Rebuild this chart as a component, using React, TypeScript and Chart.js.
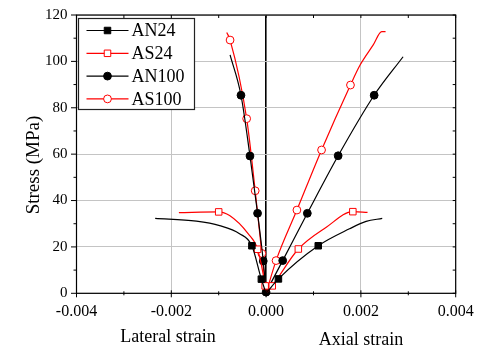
import React, { useEffect, useRef } from "react";
import { Chart, registerables } from "chart.js";
Chart.register(...registerables);

// ---- data (strain, stress in MPa) ----
const seriesNames = ["AN24", "AS24", "AN100", "AS100"];

const an24LatStrain = [-0.00234, -0.00147, -0.00098, -0.00056, -0.0003, -0.0001, 0];
const an24LatStress = [32.3, 31.1, 29.2, 25.7, 20.5, 6.1, 0];
const an24LatMark = [0, 0, 0, 0, 1, 1, 0];
const an24AxStrain = [0, 0.00026, 0.0011, 0.00176, 0.00211, 0.00245];
const an24AxStress = [0, 6.2, 20.5, 27.8, 31.0, 32.3];
const an24AxMark = [0, 1, 1, 0, 0, 0];

const as24LatStrain = [-0.00184, -0.001, -0.00077, -0.00038, -0.00018, -0.00002, 0];
const as24LatStress = [34.8, 35.1, 33.5, 25.7, 19.0, 3.2, 0];
const as24LatMark = [0, 1, 0, 0, 1, 1, 0];
const as24AxStrain = [0, 0.00013, 0.00068, 0.00127, 0.00183, 0.00214];
const as24AxStress = [0, 3.2, 19.1, 28.5, 35.2, 34.9];
const as24AxMark = [0, 1, 1, 0, 1, 0];

const an100LatStrain = [-0.00076, -0.00053, -0.00034, -0.00018, -0.00006, 0];
const an100LatStress = [102.8, 85.4, 59.2, 34.5, 13.9, 0.5];
const an100LatMark = [0, 1, 1, 1, 1, 1];
const an100AxStrain = [0, 0.00035, 0.00087, 0.00152, 0.00228, 0.00289];
const an100AxStress = [0.5, 14.1, 34.5, 59.3, 85.4, 102.0];
const an100AxMark = [0, 1, 1, 1, 1, 0];

const as100LatStrain = [-0.00083, -0.00076, -0.00041, -0.00023, -0.00009, 0];
const as100LatStress = [112.5, 109.2, 75.3, 44.2, 17.2, 0];
const as100LatMark = [0, 1, 1, 1, 1, 0];
const as100AxStrain = [0, 0.00021, 0.00065, 0.00117, 0.00178, 0.00198, 0.00226, 0.00244, 0.00252];
const as100AxStress = [0, 14.1, 35.9, 61.8, 89.8, 98.3, 107.1, 112.8, 112.8];
const as100AxMark = [0, 1, 1, 1, 1, 0, 0, 0, 0];

const xTickValues = [-0.004, -0.002, 0, 0.002, 0.004];
const yTickValues = [0, 20, 40, 60, 80, 100, 120];

// ---- styles ----
const RED = "rgb(255,0,0)";
const styles = [
  { color: "#000", style: "rect", fill: "#000", r: 4.6 },
  { color: RED, style: "rect", fill: "#fff", r: 4.6 },
  { color: "#000", style: "circle", fill: "#000", r: 3.9 },
  { color: RED, style: "circle", fill: "#fff", r: 3.9 },
];

const branches = [
  [0, an24LatStrain, an24LatStress, an24LatMark],
  [0, an24AxStrain, an24AxStress, an24AxMark],
  [1, as24LatStrain, as24LatStress, as24LatMark],
  [1, as24AxStrain, as24AxStress, as24AxMark],
  [2, an100LatStrain, an100LatStress, an100LatMark],
  [2, an100AxStrain, an100AxStress, an100AxMark],
  [3, as100LatStrain, as100LatStress, as100LatMark],
  [3, as100AxStrain, as100AxStress, as100AxMark],
] as const;

const SERIF = "'Liberation Serif', 'Times New Roman', serif";

function drawMarker(ctx: CanvasRenderingContext2D, s: any, x: number, y: number) {
  ctx.beginPath();
  if (s.style === "rect") {
    const h = Math.SQRT1_2 * s.r;
    ctx.rect(x - h, y - h, 2 * h, 2 * h);
  } else {
    ctx.arc(x, y, s.r, 0, Math.PI * 2);
  }
  ctx.fillStyle = s.fill;
  ctx.fill();
  ctx.lineWidth = 1;
  ctx.strokeStyle = s.color;
  ctx.stroke();
}

const overlay = {
  id: "overlay",
  afterDraw(chart: any) {
    const { ctx, chartArea: a, scales } = chart;
    const xs = scales.x;
    const ys = scales.y;
    ctx.save();
    // frame
    ctx.strokeStyle = "#000";
    ctx.lineWidth = 1.2;
    ctx.strokeRect(a.left, a.top, a.right - a.left, a.bottom - a.top);

    ctx.lineWidth = 1;
    ctx.beginPath();
    // y ticks (left outward, right inward)
    for (let v = 0; v <= 120; v += 10) {
      const py = ys.getPixelForValue(v);
      const major = v % 20 === 0;
      ctx.moveTo(a.left - (major ? 5.5 : 3), py);
      ctx.lineTo(a.left, py);
      ctx.moveTo(a.right, py);
      ctx.lineTo(a.right - 3, py);
    }
    // x ticks
    for (let k = -4; k <= 4; k++) {
      const px = xs.getPixelForValue(k * 0.001);
      const major = k % 2 === 0;
      ctx.moveTo(px, a.bottom - (major ? 3 : 2));
      ctx.lineTo(px, a.bottom + (major ? 4 : 2));
      ctx.moveTo(px, a.top);
      ctx.lineTo(px, a.top + 3);
    }
    ctx.stroke();

    // legend box
    const bx = 78.5, by = 18.5, bw = 116, bh = 91;
    ctx.fillStyle = "#fff";
    ctx.fillRect(bx, by, bw, bh);
    ctx.strokeStyle = "#222";
    ctx.lineWidth = 1.2;
    ctx.strokeRect(bx, by, bw, bh);
    ctx.font = `18px ${SERIF}`;
    ctx.textBaseline = "middle";
    ctx.textAlign = "left";
    seriesNames.forEach((name, i) => {
      const s = styles[i];
      const ry = 30.5 + i * 22.8;
      ctx.beginPath();
      ctx.moveTo(86.5, ry);
      ctx.lineTo(128.5, ry);
      ctx.strokeStyle = s.color;
      ctx.lineWidth = 1.2;
      ctx.stroke();
      drawMarker(ctx, s, 107.5, ry);
      ctx.fillStyle = "#000";
      ctx.fillText(name, 131.5, ry + 1);
    });

    // axis texts
    ctx.fillStyle = "#000";
    ctx.textAlign = "center";
    ctx.textBaseline = "alphabetic";
    ctx.font = `18px ${SERIF}`;
    ctx.fillText("Lateral strain", 168, 342);
    ctx.fillText("Axial strain", 361, 345);
    ctx.save();
    ctx.translate(39, 165);
    ctx.rotate(-Math.PI / 2);
    ctx.font = `19px ${SERIF}`;
    ctx.fillText("Stress (MPa)", 0, 0);
    ctx.restore();

    ctx.restore();
  },
};

export default function App() {
  const ref = useRef<HTMLCanvasElement>(null);
  useEffect(() => {
    if (!ref.current) return;
    const datasets = branches.map(([si, xsArr, ysArr, mk]) => {
      const s = styles[si];
      return {
        data: (xsArr as readonly number[]).map((x, i) => ({ x, y: (ysArr as readonly number[])[i] })),
        borderColor: s.color,
        borderWidth: 1.2,
        cubicInterpolationMode: "monotone" as const,
        pointStyle: s.style,
        pointRadius: (mk as readonly number[]).map((m) => (m ? s.r : 0)),
        pointBackgroundColor: s.fill,
        pointBorderColor: s.color,
        pointBorderWidth: 1,
        fill: false,
        clip: false as any,
      };
    });
    const chart = new Chart(ref.current, {
      type: "line",
      data: { datasets: datasets as any },
      options: {
        animation: false,
        responsive: false,
        devicePixelRatio: 1,
        events: [],
        layout: { padding: { top: 15, right: 22.3, left: 0, bottom: 0 } },
        plugins: { legend: { display: false }, tooltip: { enabled: false } },
        scales: {
          x: {
            type: "linear",
            min: -0.004,
            max: 0.004,
            afterFit: (sc: any) => {
              sc.height = 55.7;
              sc.paddingLeft = 0;
              sc.paddingRight = 0;
            },
            afterBuildTicks: (sc: any) => { sc.ticks = xTickValues.map((v) => ({ value: v })); },
            border: { display: false },
            grid: {
              drawTicks: false,
              color: (c: any) => (Math.abs(c.tick.value) < 1e-9 ? "#000" : "#c4c4c4"),
              lineWidth: (c: any) => (Math.abs(c.tick.value) < 1e-9 ? 1.6 : 1),
            },
            ticks: {
              padding: 9,
              color: "#000",
              font: { family: SERIF, size: 16 },
              maxRotation: 0,
              autoSkip: false,
              callback: (v: any) => (Math.abs(Number(v)) < 1e-9 ? "0.000" : Number(v).toFixed(3)),
            },
          },
          y: {
            type: "linear",
            min: 0,
            max: 120,
            afterFit: (sc: any) => {
              sc.width = 76.5;
              sc.paddingTop = 0;
              sc.paddingBottom = 0;
            },
            afterBuildTicks: (sc: any) => { sc.ticks = yTickValues.map((v) => ({ value: v })); },
            border: { display: false },
            grid: { drawTicks: false, color: "#c4c4c4", lineWidth: 1 },
            ticks: {
              padding: 9,
              color: "#000",
              font: { family: SERIF, size: 15 },
              autoSkip: false,
              callback: (v: any) => String(v),
            },
          },
        },
      },
      plugins: [overlay],
    });
    return () => chart.destroy();
  }, []);
  return (
    <div style={{ position: "absolute", left: 0, top: 0, width: 478, height: 349, background: "#fff" }}>
      <canvas ref={ref} width={478} height={349} style={{ display: "block", width: 478, height: 349 }} />
    </div>
  );
}
